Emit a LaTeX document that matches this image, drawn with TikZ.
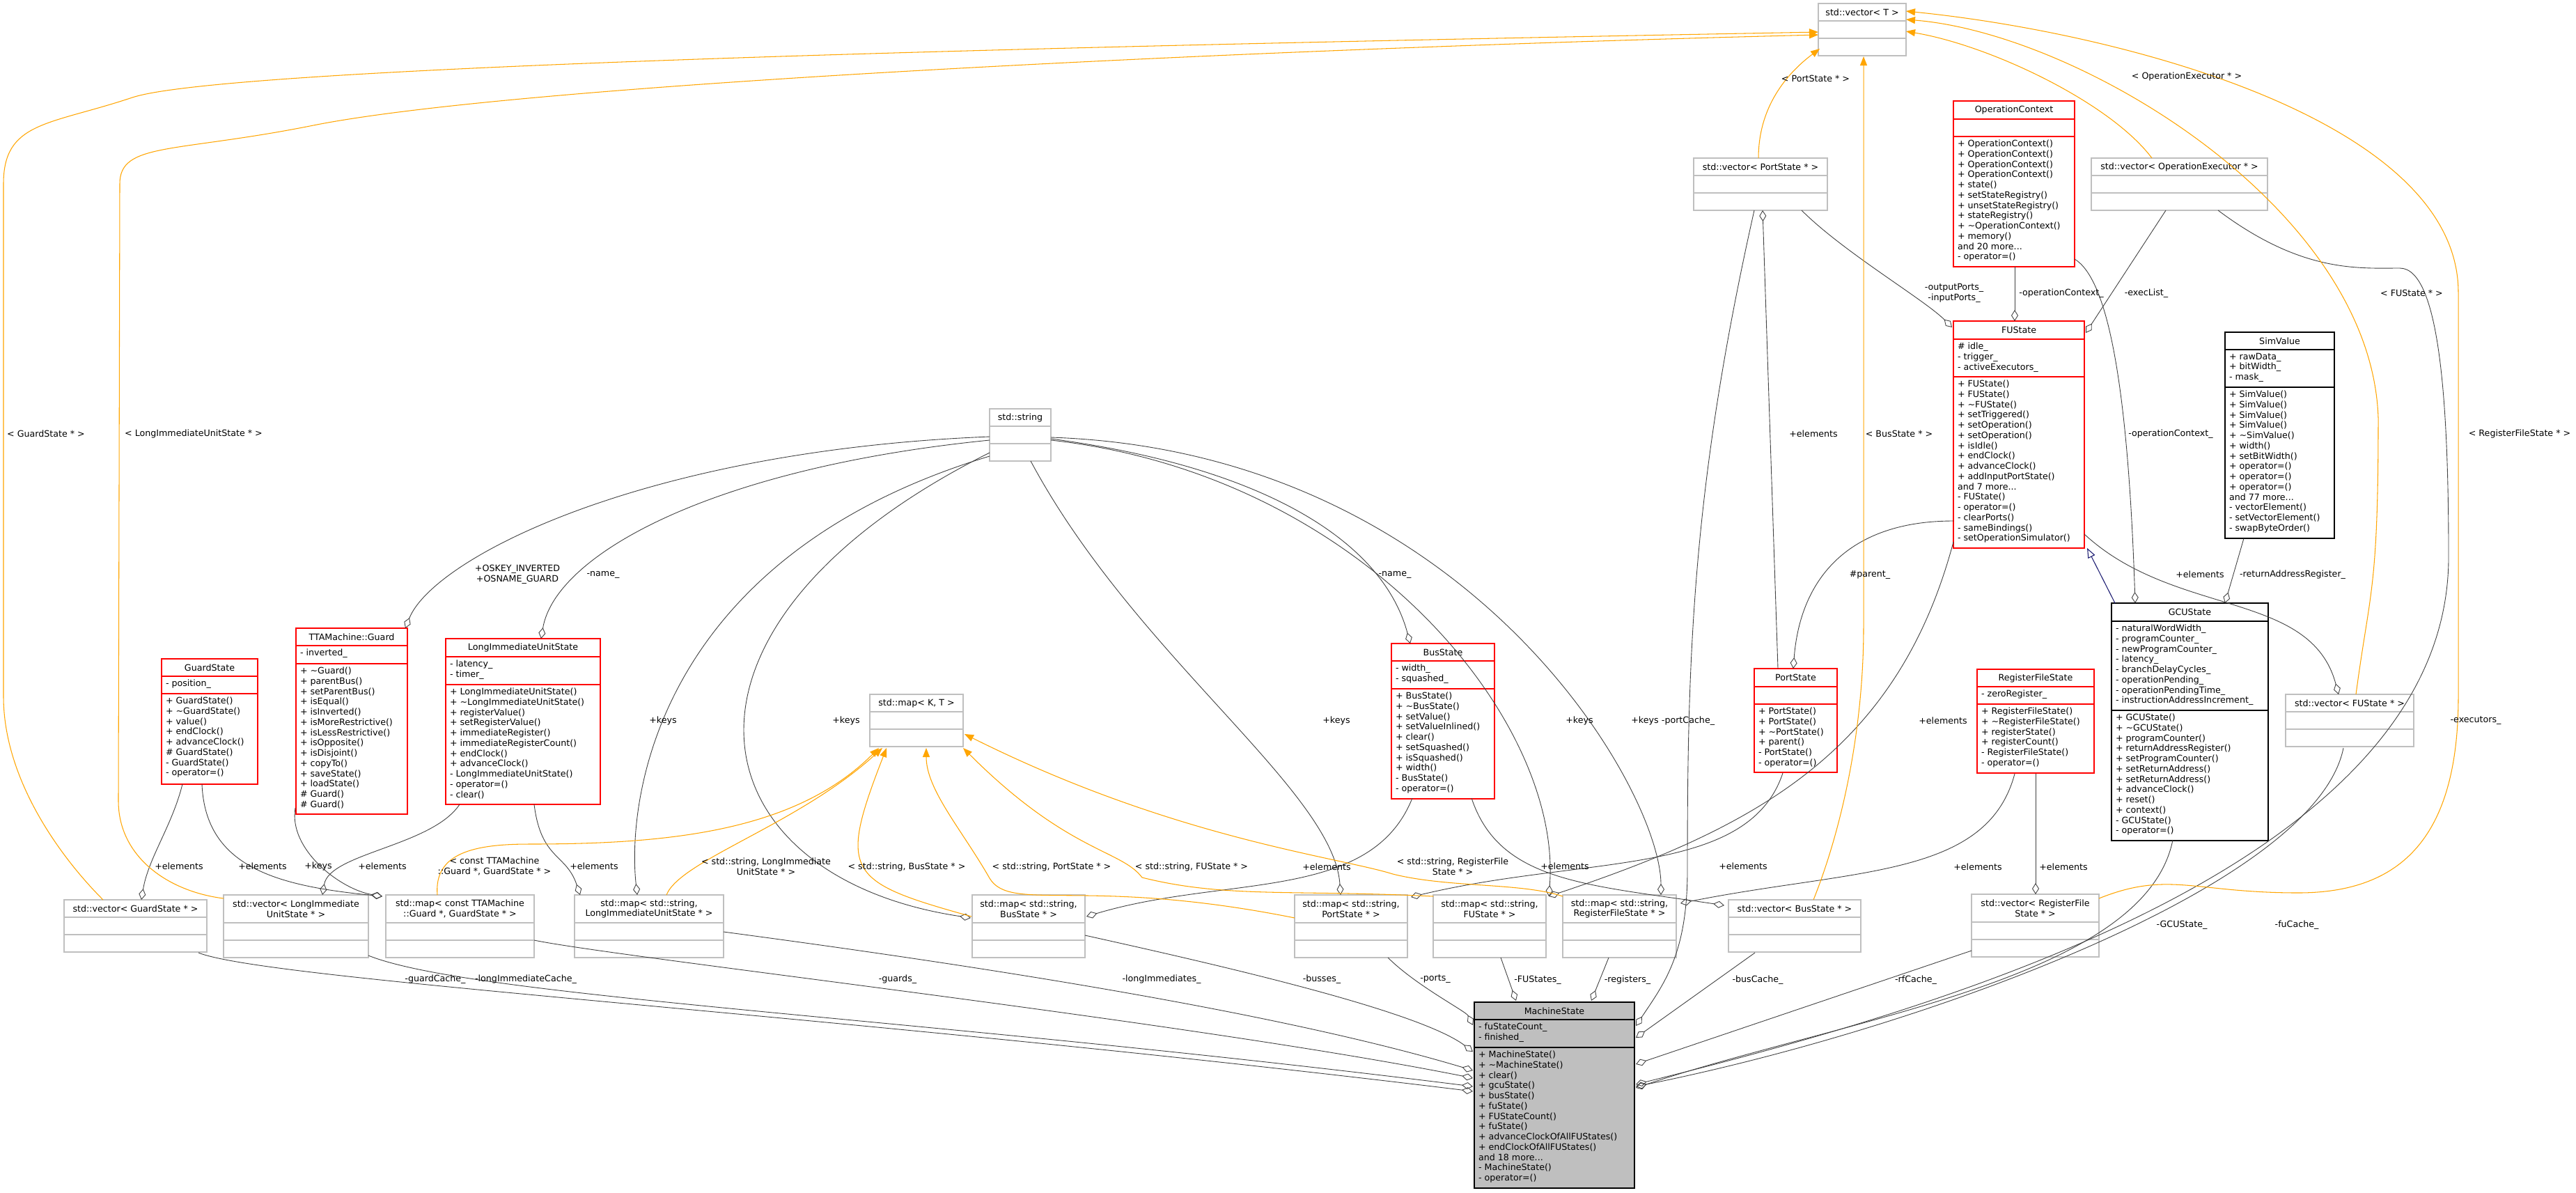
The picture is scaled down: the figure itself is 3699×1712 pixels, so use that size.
\documentclass[tikz,border=0pt]{standalone}
\usepackage{fontspec}
\setmainfont{DejaVu Sans}
\usetikzlibrary{arrows.meta,calc}
\definecolor{navyc}{HTML}{191970}
\definecolor{edgec}{HTML}{404040}
\definecolor{orgc}{HTML}{FFA500}
\definecolor{grayb}{HTML}{BFBFBF}
\tikzset{
 txt/.style={font=\fontsize{7.2}{8.4}\selectfont, inner sep=0pt, outer sep=0pt},
 redbox/.style={draw=red, line width=0.8pt, fill=white},
 blkbox/.style={draw=black, line width=1pt, fill=white},
 grybox/.style={draw=grayb, line width=0.8pt, fill=white},
 msbox/.style={draw=black, line width=1pt, fill=grayb},
 mem/.style={txt, align=left, anchor=north west},
 agg/.style={draw=edgec, line width=0.5pt, -{Diamond[open,length=0.32cm,width=0.2cm]}},
 tmpl/.style={draw=orgc, line width=0.6pt, -{Triangle[length=0.26cm,width=0.2cm]}},
 inh/.style={draw=navyc, line width=0.6pt, -{Triangle[open,length=0.28cm,width=0.22cm]}},
 lbl/.style={txt, align=center},
}
\newcommand\ubox[9]{%
 \node[#1,anchor=north west,inner sep=0pt,outer sep=0pt,minimum width=#5*0.02cm,minimum height={(#6+#7+#8)*0.02cm}] (#2) at (#3,#4) {};
 \draw[#1] (#3,#4+#6) -- ++(#5,0) (#3,#4+#6+#7) -- ++(#5,0);
 \node[txt,align=center] (#2-t) at (#3+#5/2,#4+#6/2) {#9};
}
\begin{document}
\begin{tikzpicture}[x=0.02cm,y=-0.02cm]
\fill[white] (0,0) rectangle (3699,1712);
\useasboundingbox (0,0) rectangle (3699,1712);

% ---------- boxes ----------
\ubox{grybox}{vT}{2611}{5}{126}{25}{25}{25}{std::vector< T >}
\ubox{grybox}{vPS}{2432}{227}{192}{25}{25}{25}{std::vector< PortState * >}
\ubox{grybox}{vOE}{3003}{227}{253}{25}{25}{25}{std::vector< OperationExecutor * >}
\ubox{redbox}{OC}{2805}{145}{174}{26}{25}{187}{OperationContext}
\node[mem] (OC-m) at (2811,201) {+ OperationContext()\\+ OperationContext()\\+ OperationContext()\\+ OperationContext()\\+ state()\\+ setStateRegistry()\\+ unsetStateRegistry()\\+ stateRegistry()\\+ \textasciitilde OperationContext()\\+ memory()\\and 20 more...\\- operator=()};
\ubox{redbox}{FU}{2805}{461}{188}{26}{54}{246}{FUState}
\node[mem] (FU-a) at (2811,492) {\# idle\_\\- trigger\_\\- activeExecutors\_};
\node[mem] (FU-m) at (2811,546) {+ FUState()\\+ FUState()\\+ \textasciitilde FUState()\\+ setTriggered()\\+ setOperation()\\+ setOperation()\\+ isIdle()\\+ endClock()\\+ advanceClock()\\+ addInputPortState()\\and 7 more...\\- FUState()\\- operator=()\\- clearPorts()\\- sameBindings()\\- setOperationSimulator()};
\ubox{blkbox}{SV}{3195}{477}{157}{25}{54}{217}{SimValue}
\node[mem] (SV-a) at (3201,507) {+ rawData\_\\+ bitWidth\_\\- mask\_};
\node[mem] (SV-m) at (3201,561) {+ SimValue()\\+ SimValue()\\+ SimValue()\\+ SimValue()\\+ \textasciitilde SimValue()\\+ width()\\+ setBitWidth()\\+ operator=()\\+ operator=()\\+ operator=()\\and 77 more...\\- vectorElement()\\- setVectorElement()\\- swapByteOrder()};
\ubox{blkbox}{GCU}{3032}{866}{225}{26}{128}{187}{GCUState}
\node[mem] (GCU-a) at (3038,897) {- naturalWordWidth\_\\- programCounter\_\\- newProgramCounter\_\\- latency\_\\- branchDelayCycles\_\\- operationPending\_\\- operationPendingTime\_\\- instructionAddressIncrement\_};
\node[mem] (GCU-m) at (3038,1025) {+ GCUState()\\+ \textasciitilde GCUState()\\+ programCounter()\\+ returnAddressRegister()\\+ setProgramCounter()\\+ setReturnAddress()\\+ setReturnAddress()\\+ advanceClock()\\+ reset()\\+ context()\\- GCUState()\\- operator=()};
\ubox{grybox}{vFU}{3282}{997}{184}{25}{25}{25}{std::vector< FUState * >}
\ubox{redbox}{RF}{2839}{961}{168}{25}{25}{99}{RegisterFileState}
\node[mem] (RF-a) at (2845,991) {- zeroRegister\_};
\node[mem] (RF-m) at (2845,1016) {+ RegisterFileState()\\+ \textasciitilde RegisterFileState()\\+ registerState()\\+ registerCount()\\- RegisterFileState()\\- operator=()};
\ubox{redbox}{PS}{2519}{960}{119}{26}{25}{98}{PortState}
\node[mem] (PS-m) at (2525,1016) {+ PortState()\\+ PortState()\\+ \textasciitilde PortState()\\+ parent()\\- PortState()\\- operator=()};
\ubox{redbox}{BS}{1998}{924}{148}{25}{40}{158}{BusState}
\node[mem] (BS-a) at (2004,954) {- width\_\\- squashed\_};
\node[mem] (BS-m) at (2004,994) {+ BusState()\\+ \textasciitilde BusState()\\+ setValue()\\+ setValueInlined()\\+ clear()\\+ setSquashed()\\+ isSquashed()\\+ width()\\- BusState()\\- operator=()};
\ubox{grybox}{str}{1421}{587}{88}{25}{25}{25}{std::string}
\ubox{grybox}{mKT}{1249}{997}{134}{25}{25}{25}{std::map< K, T >}
\ubox{redbox}{GS}{232}{946}{138}{25}{25}{130}{GuardState}
\node[mem] (GS-a) at (238,976) {- position\_};
\node[mem] (GS-m) at (238,1001) {+ GuardState()\\+ \textasciitilde GuardState()\\+ value()\\+ endClock()\\+ advanceClock()\\\# GuardState()\\- GuardState()\\- operator=()};
\ubox{redbox}{TG}{425}{902}{160}{25}{26}{216}{TTAMachine::Guard}
\node[mem] (TG-a) at (431,932) {- inverted\_};
\node[mem] (TG-m) at (431,958) {+ \textasciitilde Guard()\\+ parentBus()\\+ setParentBus()\\+ isEqual()\\+ isInverted()\\+ isMoreRestrictive()\\+ isLessRestrictive()\\+ isOpposite()\\+ isDisjoint()\\+ copyTo()\\+ saveState()\\+ loadState()\\\# Guard()\\\# Guard()};
\ubox{redbox}{LI}{640}{917}{222}{26}{40}{172}{LongImmediateUnitState}
\node[mem] (LI-a) at (646,948) {- latency\_\\- timer\_};
\node[mem] (LI-m) at (646,988) {+ LongImmediateUnitState()\\+ \textasciitilde LongImmediateUnitState()\\+ registerValue()\\+ setRegisterValue()\\+ immediateRegister()\\+ immediateRegisterCount()\\+ endClock()\\+ advanceClock()\\- LongImmediateUnitState()\\- operator=()\\- clear()};
\ubox{grybox}{vGS}{92}{1292}{205}{25}{25}{25}{std::vector< GuardState * >}
\ubox{grybox}{vLI}{321}{1285}{208}{40}{25}{25}{std::vector< LongImmediate\\UnitState * >}
\ubox{grybox}{mG}{554}{1285}{213}{40}{25}{25}{std::map< const TTAMachine\\::Guard *, GuardState * >}
\ubox{grybox}{mLI}{825}{1285}{214}{40}{25}{25}{std::map< std::string,\\LongImmediateUnitState * >}
\ubox{grybox}{mBS}{1396}{1285}{162}{40}{25}{25}{std::map< std::string,\\BusState * >}
\ubox{grybox}{mPS}{1859}{1285}{162}{40}{25}{25}{std::map< std::string,\\PortState * >}
\ubox{grybox}{mFU}{2058}{1285}{162}{40}{25}{25}{std::map< std::string,\\FUState * >}
\ubox{grybox}{mRF}{2244}{1285}{163}{40}{25}{25}{std::map< std::string,\\RegisterFileState * >}
\ubox{grybox}{vBS}{2482}{1292}{190}{25}{25}{25}{std::vector< BusState * >}
\ubox{grybox}{vRF}{2831}{1284}{183}{40}{25}{25}{std::vector< RegisterFile\\State * >}
\ubox{msbox}{MS}{2117}{1439}{230}{25}{40}{202}{MachineState}
\node[mem] (MS-a) at (2123,1469) {- fuStateCount\_\\- finished\_};
\node[mem] (MS-m) at (2123,1509) {+ MachineState()\\+ \textasciitilde MachineState()\\+ clear()\\+ gcuState()\\+ busState()\\+ fuState()\\+ FUStateCount()\\+ fuState()\\+ advanceClockOfAllFUStates()\\+ endClockOfAllFUStates()\\and 18 more...\\- MachineState()\\- operator=()};

% ---------- aggregation edges ----------
\draw[agg] ([shift={(30,180)}]GS.north west) .. controls +(-15,60) and +(10,-60) .. ([shift={(111,0)}]vGS.north west);
\draw[agg] ([shift={(58,180)}]GS.north west) .. controls +(5,120) and +(-150,-15) .. ([shift={(-5,2)}]mG.north west);
\draw[agg] ([shift={(-1,258)}]TG.north west) .. controls +(-10,60) and +(-60,-10) .. ([shift={(-5,2)}]mG.north west);
\draw[agg] ([shift={(20,238)}]LI.north west) .. controls +(-40,60) and +(10,-60) .. ([shift={(142,0)}]vLI.north west);
\draw[agg] ([shift={(127,238)}]LI.north west) .. controls +(10,80) and +(-20,-60) .. ([shift={(8,0)}]mLI.north west);
\draw[agg] ([shift={(0,68)}]str.north west) .. controls +(-480,145) and +(-15,-135) .. ([shift={(90,0)}]mLI.north west);
\draw[agg] ([shift={(0,40)}]str.north west) .. controls +(-500,20) and +(40,-100) .. ([shift={(157,0)}]TG.north west);
\draw[agg] ([shift={(0,45)}]str.north west) .. controls +(-400,40) and +(20,-120) .. ([shift={(137,0)}]LI.north west);
\draw[agg] ([shift={(0,63)}]str.north west) .. controls +(-500,250) and +(-400,-60) .. ([shift={(-2,33)}]mBS.north west);
\draw[agg] ([shift={(59,75)}]str.north west) .. controls +(150,280) and +(-10,-150) .. ([shift={(66,0)}]mPS.north west);
\draw[agg] ([shift={(88,43)}]str.north west) .. controls +(300,40) and +(-40,-150) .. ([shift={(27,0)}]BS.north west);
\draw[agg] ([shift={(88,45)}]str.north west) .. controls +(450,50) and +(20,-250) .. ([shift={(166,2)}]mFU.north west);
\draw[agg] ([shift={(88,41)}]str.north west) .. controls +(600,20) and +(0,-150) .. ([shift={(141,0)}]mRF.north west);
\draw[agg] ([shift={(30,222)}]BS.north west) .. controls +(-60,150) and +(200,-60) .. ([shift={(164,31)}]mBS.north west);
\draw[agg] ([shift={(115,222)}]BS.north west) .. controls +(40,120) and +(-200,-30) .. ([shift={(-6,8)}]vBS.north west);
\draw[agg] ([shift={(41,150)}]PS.north west) .. controls +(-50,150) and +(250,-60) .. ([shift={(167,3)}]mPS.north west);
\draw[agg] ([shift={(0,317)}]FU.north west) .. controls +(-80,300) and +(300,-100) .. ([shift={(166,2)}]mFU.north west);
\draw[agg] ([shift={(0,287)}]FU.north west) .. controls +(-150,0) and +(10,-130) .. ([shift={(56,0)}]PS.north west);
\draw[agg] ([shift={(34,0)}]PS.north west) -- ([shift={(99,75)}]vPS.north west);
\draw[agg] ([shift={(155,75)}]vPS.north west) .. controls +(60,60) and +(-40,-40) .. ([shift={(-2,9)}]FU.north west);
\draw[agg] ([shift={(87,75)}]vPS.north west) .. controls +(-90,400) and +(0,-300) .. (2423,1250) .. controls +(0,120) and +(40,-60) .. ([shift={(232,34)}]MS.north west);
\draw[agg] ([shift={(88,238)}]OC.north west) -- ([shift={(88,0)}]FU.north west);
\draw[agg] ([shift={(174,227)}]OC.north west) .. controls +(50,30) and +(-10,-300) .. ([shift={(34,0)}]GCU.north west);
\draw[agg] ([shift={(107,75)}]vOE.north west) -- ([shift={(190,17)}]FU.north west);
\draw[inh] ([shift={(5,0)}]GCU.north west) -- ([shift={(192,326)}]FU.north west);
\draw[agg] ([shift={(27,296)}]SV.north west) -- ([shift={(163,0)}]GCU.north west);
\draw[agg] ([shift={(188,306)}]FU.north west) .. controls +(130,120) and +(-40,-150) .. ([shift={(76,0)}]vFU.north west);
\draw[agg] ([shift={(54,150)}]RF.north west) .. controls +(-40,150) and +(250,-50) .. ([shift={(169,12)}]mRF.north west);
\draw[agg] ([shift={(84,150)}]RF.north west) -- ([shift={(92,0)}]vRF.north west);
\draw[agg] ([shift={(182,75)}]vOE.north west) .. controls +(120,90) and +(-60,0) .. (3446,385) .. controls +(60,0) and +(0,-200) .. (3516,800) .. controls +(0,450) and +(400,-100) .. ([shift={(232,118)}]MS.north west);
\draw[agg] ([shift={(83,77)}]vFU.north west) .. controls +(-40,200) and +(400,-80) .. ([shift={(232,121)}]MS.north west);
\draw[agg] ([shift={(88,340)}]GCU.north west) .. controls +(-40,200) and +(300,-100) .. ([shift={(232,123)}]MS.north west);
\draw[agg] ([shift={(0,81)}]vRF.north west) -- ([shift={(232,89)}]MS.north west);
\draw[agg] ([shift={(38,76)}]vBS.north west) -- ([shift={(232,51)}]MS.north west);
\draw[agg] ([shift={(66,90)}]mRF.north west) -- ([shift={(168,-2)}]MS.north west);
\draw[agg] ([shift={(97,90)}]mFU.north west) -- ([shift={(60,-2)}]MS.north west);
\draw[agg] ([shift={(134,90)}]mPS.north west) .. controls +(40,40) and +(-10,-20) .. ([shift={(-2,33)}]MS.north west);
\draw[agg] ([shift={(162,58)}]mBS.north west) .. controls +(180,40) and +(-80,-60) .. ([shift={(-2,71)}]MS.north west);
\draw[agg] ([shift={(214,53)}]mLI.north west) .. controls +(300,40) and +(-300,-90) .. ([shift={(-2,98)}]MS.north west);
\draw[agg] ([shift={(213,65)}]mG.north west) .. controls +(120,25) and +(-400,-80) .. ([shift={(-2,109)}]MS.north west);
\draw[agg] ([shift={(208,87)}]vLI.north west) .. controls +(150,60) and +(-800,-100) .. ([shift={(-2,121)}]MS.north west);
\draw[agg] ([shift={(193,76)}]vGS.north west) .. controls +(100,40) and +(-900,-110) .. ([shift={(-2,128)}]MS.north west);

% ---------- template edges ----------
\draw[tmpl] ([shift={(56,0)}]vGS.north west) .. controls +(-60,-60) and +(0,120) .. (5,1000) -- (5,264) .. controls +(0,-90) and +(-120,40) .. (190,140) .. controls +(150,-50) and +(-800,15) .. ([shift={(0,41)}]vT.north west);
\draw[tmpl] ([shift={(0,5)}]vLI.north west) .. controls +(-80,-10) and +(0,80) .. (170,1150) -- (172,264) .. controls +(0,-60) and +(-200,40) .. (450,180) .. controls +(300,-60) and +(-800,20) .. ([shift={(0,45)}]vT.north west);
\draw[tmpl] ([shift={(93,0)}]vPS.north west) .. controls +(0,-80) and +(-40,30) .. ([shift={(2,65)}]vT.north west);
\draw[tmpl] ([shift={(122,0)}]vBS.north west) .. controls +(40,-100) and +(0,150) .. (2676,900) -- ([shift={(65,76)}]vT.north west);
\draw[tmpl] ([shift={(87,0)}]vOE.north west) .. controls +(-60,-80) and +(120,20) .. ([shift={(126,40)}]vT.north west);
\draw[tmpl] ([shift={(101,0)}]vFU.north west) .. controls +(20,-150) and +(0,250) .. (3415,600) .. controls +(-10,-300) and +(250,20) .. ([shift={(126,23)}]vT.north west);
\draw[tmpl] ([shift={(183,6)}]vRF.north west) .. controls +(100,-40) and +(-150,0) .. (3300,1282) .. controls +(150,0) and +(0,200) .. (3530,1000) -- (3530,420) .. controls +(0,-250) and +(300,30) .. ([shift={(126,11)}]vT.north west);
\draw[tmpl] ([shift={(74,0)}]mG.north west) .. controls +(-5,-60) and +(-80,0) .. (760,1212) .. controls +(200,0) and +(-120,120) .. ([shift={(13,77)}]mKT.north west);
\draw[tmpl] ([shift={(132,0)}]mLI.north west) .. controls +(20,-50) and +(-120,110) .. ([shift={(18,77)}]mKT.north west);
\draw[tmpl] ([shift={(-1,31)}]mBS.north west) .. controls +(-180,-50) and +(-70,180) .. ([shift={(24,77)}]mKT.north west);
\draw[tmpl] ([shift={(0,33)}]mPS.north west) .. controls +(-300,-60) and +(30,50) .. (1421,1261) .. controls +(-40,-70) and +(0,60) .. ([shift={(81,77)}]mKT.north west);
\draw[tmpl] ([shift={(0,2)}]mFU.north west) .. controls +(-200,-10) and +(120,30) .. (1640,1260) .. controls +(-30,-40) and +(150,150) .. ([shift={(134,77)}]mKT.north west);
\draw[tmpl] ([shift={(0,2)}]mRF.north west) .. controls +(-60,-20) and +(80,20) .. (2000,1255) .. controls +(-80,-25) and +(300,150) .. ([shift={(136,57)}]mKT.north west);

% ---------- labels ----------
\node[lbl] (l1) at (257,1244) {+elements};
\node[lbl] (l2) at (377,1244) {+elements};
\node[lbl] (l3) at (457,1244) {+keys};
\node[lbl] (l4) at (549,1244) {+elements};
\node[lbl] (l5) at (710,1244) {< const TTAMachine\\::Guard *, GuardState * >};
\node[lbl] (l6) at (853,1244) {+elements};
\node[lbl] (l7) at (952,1035) {+keys};
\node[lbl] (l8) at (1100,1244) {< std::string, LongImmediate\\UnitState * >};
\node[lbl] (l9) at (1215,1035) {+keys};
\node[lbl] (l10) at (1302,1245) {< std::string, BusState * >};
\node[lbl] (l11) at (1510,1245) {< std::string, PortState * >};
\node[lbl] (l12) at (1711,1245) {< std::string, FUState * >};
\node[lbl] (l13) at (1919,1035) {+keys};
\node[lbl] (l14) at (1905,1245) {+elements};
\node[lbl] (l15) at (2086,1244) {< std::string, RegisterFile\\State * >};
\node[lbl] (l16) at (2247,1244) {+elements};
\node[lbl] (l17) at (2268,1035) {+keys};
\node[lbl] (l18) at (2362,1035) {+keys};
\node[lbl] (l19) at (2424,1035) {-portCache\_};
\node[lbl] (l20) at (2503,1244) {+elements};
\node[lbl] (l21) at (2790,1035) {+elements};
\node[lbl] (l22) at (2840,1245) {+elements};
\node[lbl] (l23) at (2963,1245) {+elements};
\node[lbl] (l24) at (743,825) {+OSKEY\_INVERTED\\+OSNAME\_GUARD};
\node[lbl] (l25) at (866,825) {-name\_};
\node[lbl] (l26) at (2003,825) {-name\_};
\node[lbl] (l27) at (2604,623) {+elements};
\node[lbl] (l28) at (2607,113) {< PortState * >};
\node[lbl] (l29) at (2727,623) {< BusState * >};
\node[lbl] (l30) at (3140,110) {< OperationExecutor * >};
\node[lbl] (l31) at (3463,421) {< FUState * >};
\node[lbl] (l32) at (3618,623) {< RegisterFileState * >};
\node[lbl] (l33) at (66,623) {< GuardState * >};
\node[lbl] (l34) at (278,623) {< LongImmediateUnitState * >};
\node[lbl] (l35) at (2806,421) {-outputPorts\_\\-inputPorts\_};
\node[lbl] (l36) at (2960,421) {-operationContext\_};
\node[lbl] (l37) at (3082,421) {-execList\_};
\node[lbl] (l38) at (3117,623) {-operationContext\_};
\node[lbl] (l39) at (2685,825) {\#parent\_};
\node[lbl] (l40) at (3159,825) {+elements};
\node[lbl] (l41) at (3292,825) {-returnAddressRegister\_};
\node[lbl] (l42) at (3555,1035) {-executors\_};
\node[lbl] (l43) at (3133,1328) {-GCUState\_};
\node[lbl] (l44) at (3298,1328) {-fuCache\_};
\node[lbl] (l45) at (2751,1407) {-rfCache\_};
\node[lbl] (l46) at (2524,1407) {-busCache\_};
\node[lbl] (l47) at (2337,1407) {-registers\_};
\node[lbl] (l48) at (2208,1407) {-FUStates\_};
\node[lbl] (l49) at (2061,1406) {-ports\_};
\node[lbl] (l50) at (1898,1406) {-busses\_};
\node[lbl] (l51) at (1668,1406) {-longImmediates\_};
\node[lbl] (l52) at (1289,1406) {-guards\_};
\node[lbl] (l53) at (755,1406) {-longImmediateCache\_};
\node[lbl] (l54) at (625,1406) {-guardCache\_};
\end{tikzpicture}
\end{document}
